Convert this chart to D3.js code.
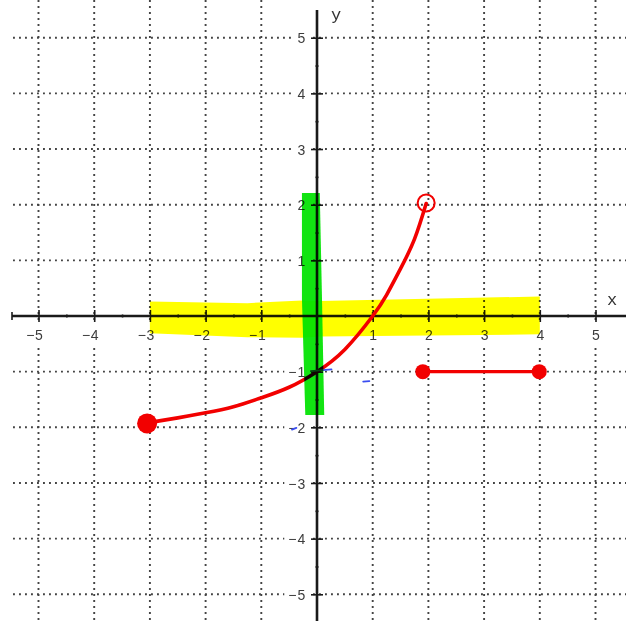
<!DOCTYPE html>
<html>
<head>
<meta charset="utf-8">
<script src="https://cdn.jsdelivr.net/npm/d3@7/dist/d3.min.js"></script>
<style>
  html, body { margin: 0; padding: 0; background: #fff; }
  svg { display: block; }
</style>
</head>
<body>
<script>
// ---- data ----
const xTicks = [-5, -4, -3, -2, -1, 1, 2, 3, 4, 5];
const yTicks = [-5, -4, -3, -2, -1, 1, 2, 3, 4, 5];
const minorTicks = [-4.5, -3.5, -2.5, -1.5, -0.5, 0.5, 1.5, 2.5, 3.5, 4.5];

// curved piece of the function
const curveX = [-3.05, -2.5, -2, -1.5, -1, -0.5, 0, 0.5, 1, 1.25, 1.5, 1.75, 1.96];
const curveY = [-1.92, -1.83, -1.74, -1.63, -1.47, -1.28, -1.0, -0.6, 0.0, 0.38, 0.85, 1.38, 2.02];

// flat piece of the function
const segX = [1.9, 3.99];
const segY = [-1.0, -1.0];

// endpoints: closed (filled) and open
const closedPts = [{x: -3.05, y: -1.93, big: true}, {x: 1.9, y: -1.0}, {x: 3.99, y: -1.0}];
const openPts = [{x: 1.96, y: 2.03}];

// highlighter strokes: domain (yellow) and range (green)
const domainBandX = [-3, -1.25, -0.27, 0.06, 4];
const domainBandTop = [0.26, 0.23, 0.28, 0.27, 0.35];
const domainBandBottom = [-0.31, -0.38, -0.39, -0.37, -0.33];
const rangeBandY = [2.21, 0.3, -1.78];
const rangeBandLeft = [-0.27, -0.27, -0.21];
const rangeBandRight = [0.05, 0.09, 0.13];

// stray pen marks
const penMarks = [
  [[-0.11, -0.99], [0.26, -0.96]],
  [[0.83, -1.18], [0.94, -1.17]],
  [[-0.45, -2.04], [-0.37, -2.01]]
];

// ---- layout ----
const W = 626, H = 621;
const x = d3.scaleLinear().domain([-5, 5]).range([38.5, 595.5]);
const y = d3.scaleLinear().domain([-5, 5]).range([594.3, 37.7]);
const x0 = x(0), y0 = y(0);

const svg = d3.select("body").append("svg").attr("width", W).attr("height", H);
svg.append("rect").attr("width", W).attr("height", H).attr("fill", "#fff");

// dotted grid
const grid = svg.append("g").attr("stroke", "#444").attr("stroke-width", 1.9)
  .attr("stroke-dasharray", "1.9,4.1");
grid.selectAll("line.v").data(xTicks).join("line").attr("class", "v")
  .attr("x1", d => x(d)).attr("x2", d => x(d)).attr("y1", 0).attr("y2", H);
grid.selectAll("line.h").data(yTicks).join("line").attr("class", "h")
  .attr("y1", d => y(d)).attr("y2", d => y(d)).attr("x1", 13).attr("x2", W);

// axes
const fontTick = "'Liberation Sans', Arial, sans-serif";
const labelFill = "#3c3c3c";
function styleAxis(g) {
  g.select(".domain").remove();
  g.selectAll(".tick line").attr("stroke", "#1a1a1a").attr("stroke-width", 1.6);
  g.selectAll(".tick text").attr("fill", labelFill).attr("font-family", fontTick).attr("font-size", 14);
}
function minusLabel(sel, xPos, dy) {
  sel.append("text").attr("class", "minus").attr("x", xPos).attr("dy", dy).attr("text-anchor", "end")
    .attr("fill", labelFill).attr("font-family", fontTick).attr("font-size", 14).text("\u2212");
}
// white knockout behind each tick label so the dotted grid stops short of it
function knockout(g, padX, padY) {
  g.selectAll(".tick").each(function () {
    const tick = d3.select(this);
    let x1 = Infinity, y1 = Infinity, x2 = -Infinity, y2 = -Infinity;
    tick.selectAll("text").each(function () {
      const b = this.getBBox();
      x1 = Math.min(x1, b.x); y1 = Math.min(y1, b.y);
      x2 = Math.max(x2, b.x + b.width); y2 = Math.max(y2, b.y + b.height);
    });
    if (!isFinite(x1)) return;
    tick.insert("rect", "text").attr("x", x1 - padX).attr("y", y1 - padY)
      .attr("width", x2 - x1 + 2 * padX).attr("height", y2 - y1 + 2 * padY).attr("fill", "#fff");
  });
}

const xAxisG = svg.append("g").attr("transform", `translate(0,${y0})`);
const xMajor = d3.axisBottom(x).tickValues(xTicks).tickSize(6).tickPadding(0)
  .tickFormat(d => Math.abs(d));
const xMajG = xAxisG.append("g").attr("transform", "translate(0,-6)").call(xMajor).call(styleAxis);
xMajG.selectAll(".tick text").attr("y", 30).attr("dy", 0);
minusLabel(xMajG.selectAll(".tick").filter(d => d < 0), -4.5, 0);
xMajG.selectAll(".tick text.minus").attr("y", 30);
xMajG.selectAll(".tick line").attr("y2", 12);
knockout(xMajG, 3, 3);
xMajG.selectAll(".tick line").raise();
xAxisG.append("line").attr("x1", 12).attr("x2", W).attr("stroke", "#1a1a1a").attr("stroke-width", 2.6);
xAxisG.append("line").attr("x1", 12).attr("x2", 12).attr("y1", -4).attr("y2", 4)
  .attr("stroke", "#1a1a1a").attr("stroke-width", 1.6);
const xMinor = d3.axisBottom(x).tickValues(minorTicks).tickSize(3).tickFormat("");
xAxisG.append("g").attr("transform", "translate(0,-1.5)").call(xMinor).call(styleAxis);

const yAxisG = svg.append("g").attr("transform", `translate(${x0},0)`);
const yMajor = d3.axisLeft(y).tickValues(yTicks).tickSize(6).tickPadding(0)
  .tickFormat(d => Math.abs(d));
const yMajG = yAxisG.append("g").attr("transform", "translate(6,0)").call(yMajor).call(styleAxis);
yMajG.selectAll(".tick line").attr("x2", -12);
yMajG.selectAll(".tick text").attr("x", -21.5).attr("dy", "0.36em").attr("text-anchor", "middle");
minusLabel(yMajG.selectAll(".tick").filter(d => d < 0), -26.5, "0.36em");
knockout(yMajG, 4, 1);
yMajG.selectAll(".tick line").raise();
yAxisG.append("line").attr("y1", 10).attr("y2", H).attr("stroke", "#1a1a1a").attr("stroke-width", 2.6);
const yMinor = d3.axisLeft(y).tickValues(minorTicks).tickSize(3).tickFormat("");
yAxisG.append("g").attr("transform", "translate(1.5,0)").call(yMinor).call(styleAxis);

// axis letters
const fontLetter = "'Liberation Mono', 'DejaVu Sans Mono', monospace";
svg.append("text").attr("x", x0 + 19).attr("y", 20).attr("text-anchor", "middle")
  .attr("font-family", fontLetter).attr("font-size", 17).attr("fill", "#333").text("y");
svg.append("text").attr("x", 612).attr("y", y0 - 11).attr("text-anchor", "middle")
  .attr("font-family", fontLetter).attr("font-size", 17).attr("fill", "#333").text("x");

// function graph
const red = "#f20000";
const curvePts = curveX.map((v, i) => [v, curveY[i]]);
const line = d3.line().x(d => x(d[0])).y(d => y(d[1])).curve(d3.curveNatural);
svg.append("path").datum(curvePts).attr("d", line)
  .attr("fill", "none").attr("stroke", red).attr("stroke-width", 3.6).attr("stroke-linecap", "round");
const segPts = segX.map((v, i) => [v, segY[i]]);
svg.append("path").datum(segPts).attr("d", d3.line().x(d => x(d[0])).y(d => y(d[1])))
  .attr("fill", "none").attr("stroke", red).attr("stroke-width", 3.4);
svg.selectAll("circle.closed").data(closedPts).join("circle").attr("class", "closed")
  .attr("cx", d => x(d.x)).attr("cy", d => y(d.y)).attr("r", d => d.big ? 10 : 7.5).attr("fill", red);
svg.selectAll("circle.open").data(openPts).join("circle").attr("class", "open")
  .attr("cx", d => x(d.x)).attr("cy", d => y(d.y)).attr("r", 8.5)
  .attr("fill", "none").attr("stroke", red).attr("stroke-width", 2);

// stray pen marks
svg.selectAll("path.pen").data(penMarks).join("path").attr("class", "pen")
  .attr("d", d3.line().x(d => x(d[0])).y(d => y(d[1])))
  .attr("fill", "none").attr("stroke", "#3a4df0").attr("stroke-width", 1.8).attr("stroke-linecap", "round");

// highlighter strokes, multiplied over the drawing
const hl = svg.append("g");
const yellowPoly = domainBandX.map((v, i) => [x(v), y(domainBandTop[i])])
  .concat(domainBandX.map((v, i) => [x(v), y(domainBandBottom[i])]).reverse());
hl.append("path").attr("d", "M" + yellowPoly.join("L") + "Z").attr("fill", "#ffff00")
  .style("mix-blend-mode", "multiply");
const greenPoly = rangeBandY.map((v, i) => [x(rangeBandLeft[i]), y(v)])
  .concat(rangeBandY.map((v, i) => [x(rangeBandRight[i]), y(v)]).reverse());
hl.append("path").attr("d", "M" + greenPoly.join("L") + "Z").attr("fill", "#12e412")
  .style("mix-blend-mode", "multiply");
</script>
</body>
</html>
